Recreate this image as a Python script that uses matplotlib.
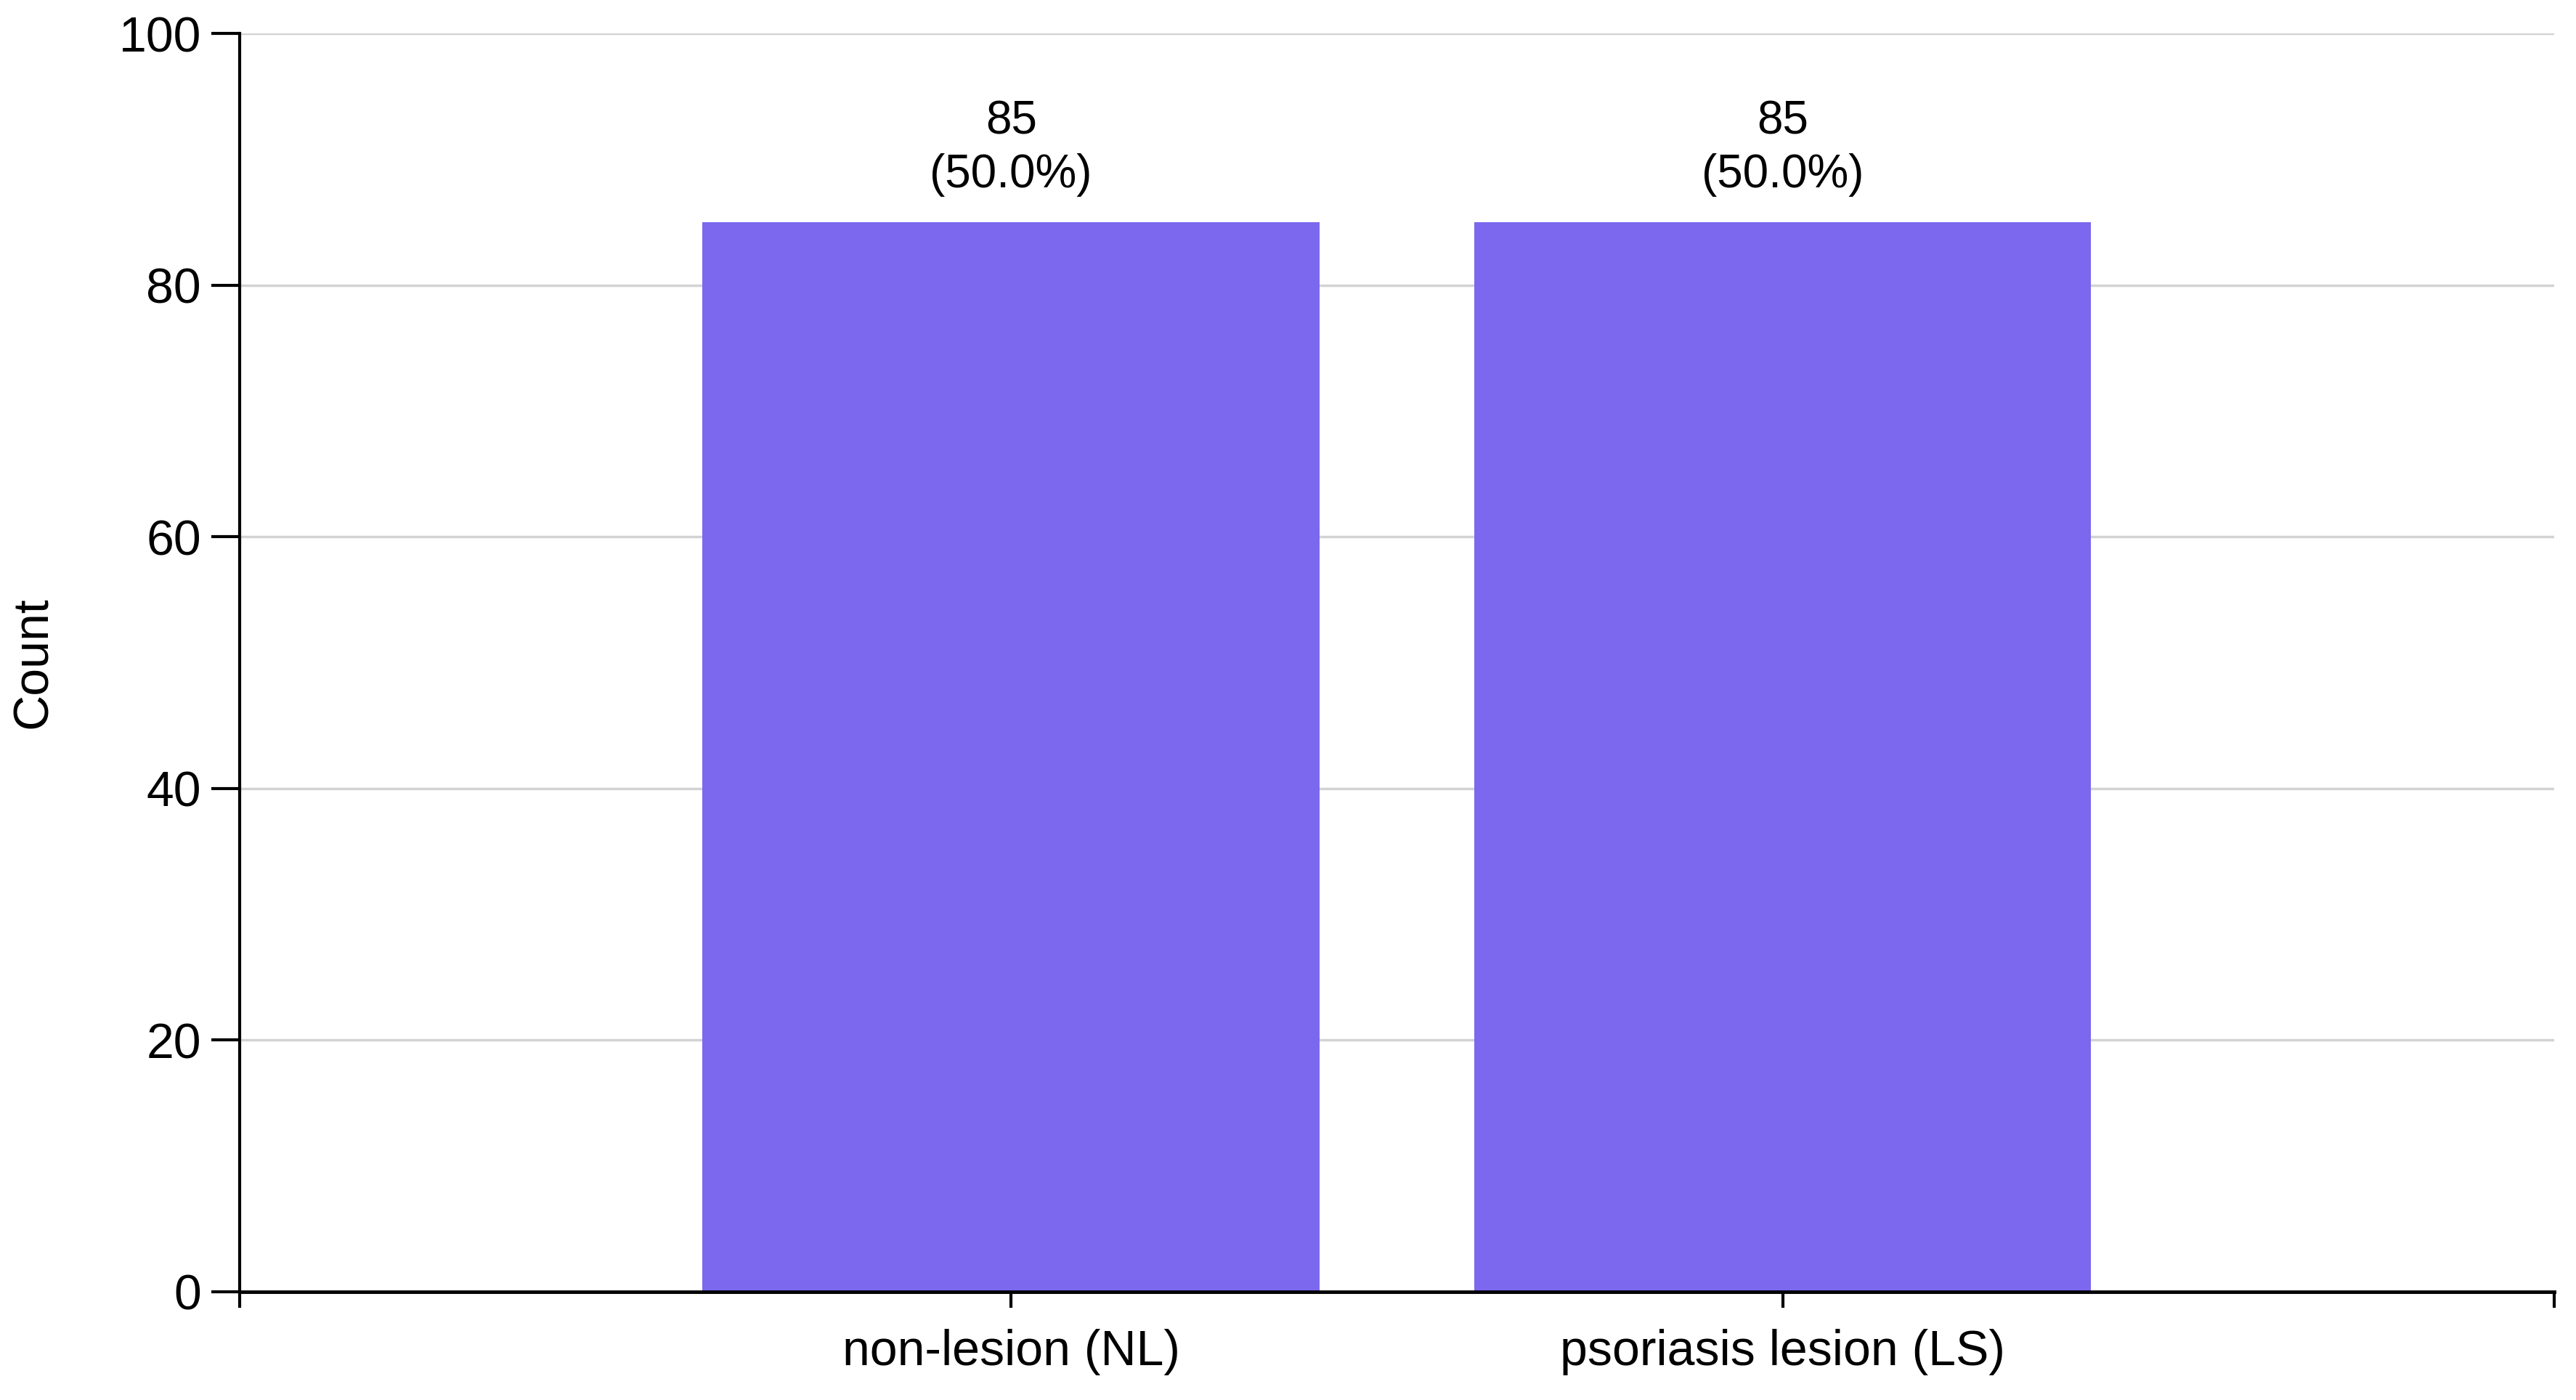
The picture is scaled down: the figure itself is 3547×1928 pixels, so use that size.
import matplotlib
matplotlib.use("Agg")
import matplotlib.pyplot as plt

# data
categories = ["non-lesion (NL)", "psoriasis lesion (LS)"]
counts = [85, 85]
percents = [50.0, 50.0]
yticks = [0, 20, 40, 60, 80, 100]

plt.rcParams['font.family'] = ['Liberation Sans', 'DejaVu Sans']

fig = plt.figure(figsize=(35.47, 19.28), dpi=100)
ax = fig.add_axes([0.0930, 0.0775, 0.8985, 0.8985])

x = list(range(len(categories)))
bars = ax.bar(x, counts, width=0.8, color="#7B68EE", zorder=2)

for b, c, p in zip(bars, counts, percents):
    ax.annotate(f"{c}\n({p:.1f}%)", (b.get_x() + b.get_width() / 2, b.get_height()),
                xytext=(0, 25), textcoords="offset points", ha="center", va="bottom",
                fontsize=46, linespacing=1.3)

ax.set_xlim(-1, 2)
ax.set_ylim(0, 100)
ax.set_yticks(yticks)
ax.set_xticks([-1, 0, 1, 2])
ax.set_xticklabels([""] + categories + [""])
ax.tick_params(axis="y", labelsize=49, length=28, width=3, pad=10)
ax.tick_params(axis="x", labelsize=49, length=16, width=3, pad=21)

ax.yaxis.grid(True, color="#d3d3d3", linewidth=2.5, zorder=0)
ax.set_axisbelow(True)
for s in ["top", "right"]:
    ax.spines[s].set_visible(False)
ax.spines["left"].set_linewidth(3)
ax.spines["bottom"].set_linewidth(3.5)

ax.set_ylabel("Count", fontsize=49, labelpad=62)

fig.savefig("out.png", dpi=100)
